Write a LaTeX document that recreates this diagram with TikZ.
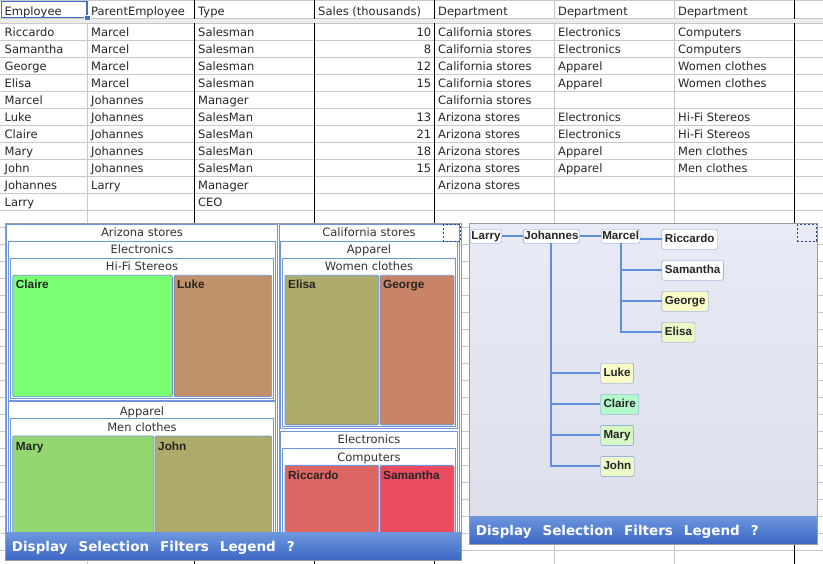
\documentclass[tikz,border=0pt]{standalone}
\usepackage{fontspec}
\setmainfont{DejaVu Sans}
\newfontfamily\namefont{Liberation Sans}
\usetikzlibrary{positioning}
\definecolor{gridgray}{RGB}{200,200,200}
\definecolor{bandgray}{RGB}{236,236,236}
\definecolor{selblue}{RGB}{61,111,208}
\definecolor{tmblue}{RGB}{110,150,222}
\definecolor{linkblue}{RGB}{95,143,222}
\definecolor{panelgray}{RGB}{155,155,155}
\definecolor{dashblue}{RGB}{40,70,140}
\definecolor{barTop}{RGB}{108,150,221}
\definecolor{barBot}{RGB}{61,104,196}
\definecolor{bgTop}{RGB}{232,235,246}
\definecolor{bgBot}{RGB}{220,223,234}
\definecolor{claireC}{RGB}{122,255,114}
\definecolor{lukeC}{RGB}{193,145,106}
\definecolor{maryC}{RGB}{148,214,112}
\definecolor{johnC}{RGB}{174,171,106}
\definecolor{elisaC}{RGB}{174,172,106}
\definecolor{georgeC}{RGB}{201,131,103}
\definecolor{riccardoC}{RGB}{221,102,99}
\definecolor{samanthaC}{RGB}{234,75,94}
\definecolor{paleYellow}{RGB}{250,251,200}
\definecolor{paleLime}{RGB}{236,249,199}
\definecolor{paleMint}{RGB}{180,249,201}
\definecolor{paleGreen}{RGB}{214,248,194}
\tikzstyle{gridline}=[draw=gridgray, line width=0.8pt]
\tikzstyle{pagebreak}=[draw=black, line width=0.9pt]
\tikzstyle{cell}=[anchor=base west, inner sep=0pt, text=black!85, font=\fontsize{11.5}{13}\selectfont]
\tikzstyle{tmbox}=[draw=tmblue, fill=white, line width=0.9pt]
\tikzstyle{tmtitle}=[anchor=base, inner sep=0pt, text=black!80, font=\fontsize{11.5}{13}\selectfont]
\tikzstyle{tmleaf}=[draw=tmblue, line width=0.9pt, rounded corners=2pt]
\tikzstyle{leaflabel}=[anchor=base west, inner sep=0pt, text=black!85, font=\namefont\bfseries\fontsize{11.8}{13}\selectfont]
\tikzstyle{panel}=[draw=panelgray, line width=1pt]
\tikzstyle{menubar}=[top color=barTop, bottom color=barBot]
\tikzstyle{menutext}=[anchor=base west, inner sep=0pt, text=white, font=\bfseries\fontsize{13.5}{15}\selectfont]
\tikzstyle{corner}=[draw=dashblue, dashed, dash pattern=on 2pt off 2pt, line width=0.8pt]
\tikzstyle{person}=[draw=tmblue, fill=white, rounded corners=1.5pt, inner sep=1pt, minimum height=14pt, text height=8.5pt, text depth=2.5pt, text=black!85, font=\namefont\bfseries\fontsize{11.6}{13}\selectfont]
\tikzstyle{leafperson}=[person, anchor=west, minimum height=20pt, inner xsep=3pt]
\tikzstyle{link}=[draw=linkblue, line width=2pt]
\newcommand{\menuwords}{Display\hspace{11pt}Selection\hspace{11pt}Filters\hspace{11pt}Legend\hspace{11pt}?}

\begin{document}
\begin{tikzpicture}[x=1pt,y=-1pt]
	\useasboundingbox (0,0) rectangle (823,564);
	% spreadsheet grid
	\draw[gridline] (0,0.5) -- (823,0.5);
	\draw[gridline] (0,18.5) -- (823,18.5);
	\foreach \k in {0,...,31}
		\draw[gridline] (0,23.7+17*\k) -- (823,23.7+17*\k);
	\foreach \cx in {87,554,674}
		\draw[gridline] (\cx,0) -- (\cx,564);
	\foreach \cx in {194,314,434,794}
		\draw[pagebreak] (\cx,0) -- (\cx,564);
	\fill[bandgray] (0,19) rectangle (823,23.3);
	% header row
	\node[cell] (hEmp) at (4.5,15.3) {Employee};
	\node[cell] (hBoss) at (91,15.3) {ParentEmployee};
	\node[cell] (hType) at (198,15.3) {Type};
	\node[cell] (hSales) at (318,15.3) {Sales (thousands)};
	\node[cell] (hDepA) at (438,15.3) {Department};
	\node[cell] (hDepB) at (558,15.3) {Department};
	\node[cell] (hDepC) at (678,15.3) {Department};
	% data rows
	\foreach \emp/\boss/\kind/\sales/\depA/\depB/\depC [count=\r] in {%
		Riccardo/Marcel/Salesman/10/California stores/Electronics/Computers,
		Samantha/Marcel/Salesman/8/California stores/Electronics/Computers,
		George/Marcel/Salesman/12/California stores/Apparel/Women clothes,
		Elisa/Marcel/Salesman/15/California stores/Apparel/Women clothes,
		Marcel/Johannes/Manager//California stores//,
		Luke/Johannes/SalesMan/13/Arizona stores/Electronics/Hi-Fi Stereos,
		Claire/Johannes/SalesMan/21/Arizona stores/Electronics/Hi-Fi Stereos,
		Mary/Johannes/SalesMan/18/Arizona stores/Apparel/Men clothes,
		John/Johannes/SalesMan/15/Arizona stores/Apparel/Men clothes,
		Johannes/Larry/Manager//Arizona stores//,
		Larry//CEO////}
	{
		\pgfmathsetmacro\yb{36.7+17*(\r-1)}
		\node[cell] (emp\r) at (4.5,\yb) {\emp};
		\node[cell] (boss\r) at (91,\yb) {\boss};
		\node[cell] (kind\r) at (198,\yb) {\kind};
		\node[cell, anchor=base east] (sales\r) at (431.5,\yb) {\sales};
		\node[cell] (depA\r) at (438,\yb) {\depA};
		\node[cell] (depB\r) at (558,\yb) {\depB};
		\node[cell] (depC\r) at (678,\yb) {\depC};
	}
	% selected cell
	\draw[selblue, line width=1.5pt] (1.5,1.5) rectangle (87,17.5);
	\draw[white, fill=selblue, line width=0.8pt] (84.5,15) rectangle (90,20.5);

	% treemap panel
	\draw[panel, fill=white] (5,223.3) rectangle (461,560);
	% Arizona stores
	\draw[tmbox] (6.5,224) rectangle (277.5,560);
	\node[tmtitle] (tmAz) at (142,237) {Arizona stores};
	\draw[tmbox] (8.5,241.5) rectangle (275.5,400);
	\node[tmtitle] (tmAzEl) at (142,254) {Electronics};
	\draw[tmbox] (10.5,258.5) rectangle (273.5,398.3);
	\node[tmtitle] (tmHifi) at (142,271) {Hi-Fi Stereos};
	\draw[tmleaf, fill=claireC] (12.7,275.3) rectangle (172.3,396.8);
	\node[leaflabel] (tmClaire) at (15.7,289) {Claire};
	\draw[tmleaf, fill=lukeC] (174,275.3) rectangle (271.7,396.8);
	\node[leaflabel] (tmLuke) at (177,289) {Luke};
	\draw[tmbox] (8.5,401.7) rectangle (275.5,560);
	\node[tmtitle] (tmAzAp) at (142,415) {Apparel};
	\draw[tmbox] (10.5,418.7) rectangle (273.5,560);
	\node[tmtitle] (tmMen) at (142,431.7) {Men clothes};
	\draw[tmleaf, fill=maryC] (12.7,436) rectangle (153.7,550);
	\node[leaflabel] (tmMary) at (15.7,450) {Mary};
	\draw[tmleaf, fill=johnC] (155,436) rectangle (271.7,550);
	\node[leaflabel] (tmJohn) at (158,450) {John};
	% California stores
	\draw[tmbox] (279,224) rectangle (459.5,560);
	\node[tmtitle] (tmCa) at (369,237) {California stores};
	\draw[tmbox] (280.8,241.5) rectangle (457.7,428.5);
	\node[tmtitle] (tmCaAp) at (369,254) {Apparel};
	\draw[tmbox] (282.7,258.5) rectangle (455.7,426.5);
	\node[tmtitle] (tmWomen) at (369,271) {Women clothes};
	\draw[tmleaf, fill=elisaC] (285,275.3) rectangle (378.7,424.8);
	\node[leaflabel] (tmElisa) at (288,289) {Elisa};
	\draw[tmleaf, fill=georgeC] (380,275.3) rectangle (454,424.8);
	\node[leaflabel] (tmGeorge) at (383,289) {George};
	\draw[tmbox] (280.8,431) rectangle (457.7,560);
	\node[tmtitle] (tmCaEl) at (369,443.7) {Electronics};
	\draw[tmbox] (282.7,448.3) rectangle (455.7,560);
	\node[tmtitle] (tmComp) at (369,461) {Computers};
	\draw[tmleaf, fill=riccardoC] (285,465.3) rectangle (378.7,550);
	\node[leaflabel] (tmRiccardo) at (288,479) {Riccardo};
	\draw[tmleaf, fill=samanthaC] (380,465.3) rectangle (454,550);
	\node[leaflabel] (tmSamantha) at (383,479) {Samantha};
	\draw[corner] (443.3,224.3) rectangle (460.5,241.5);
	% treemap menu
	\path[menubar] (5,532.7) rectangle (461,560);
	\draw[panel] (5,223.3) rectangle (461,560);
	\node[menutext] (menuL) at (11.7,551.7) {\menuwords};

	% tree panel
	\path[top color=bgTop, bottom color=bgBot] (469,223.3) rectangle (817,544);
	\node[person] (larry) at (486,236.3) {Larry};
	\node[person, right=21.4pt of larry] (johannes) {Johannes};
	\node[person, right=21.4pt of johannes] (marcel) {Marcel};
	\node[leafperson] (riccardo) at (661.7,239.3) {Riccardo};
	\node[leafperson] (samantha) at (661.7,270.3) {Samantha};
	\node[leafperson, fill=paleYellow] (george) at (661.7,301.3) {George};
	\node[leafperson, fill=paleLime] (elisa) at (661.7,332.3) {Elisa};
	\node[leafperson, fill=paleYellow] (luke) at (600.3,373.3) {Luke};
	\node[leafperson, fill=paleMint] (claire) at (600.3,404.3) {Claire};
	\node[leafperson, fill=paleGreen] (mary) at (600.3,435.3) {Mary};
	\node[leafperson, fill=paleLime] (john) at (600.3,466.3) {John};
	\draw[link] (larry) -- (johannes);
	\draw[link] (johannes) -- (marcel);
	\draw[link] (marcel.east |- riccardo.west) -- (riccardo.west);
	\foreach \kid in {samantha,george,elisa}
		\draw[link] (marcel.south) |- (\kid.west);
	\foreach \kid in {luke,claire,mary,john}
		\draw[link] (johannes.south) |- (\kid.west);
	\draw[corner] (797.7,224.3) rectangle (816.5,241.5);
	% tree menu
	\path[menubar] (469,516) rectangle (817,544);
	\draw[panel] (469,223.3) rectangle (817,544);
	\node[menutext] (menuR) at (475.7,535.7) {\menuwords};
\end{tikzpicture}
\end{document}
